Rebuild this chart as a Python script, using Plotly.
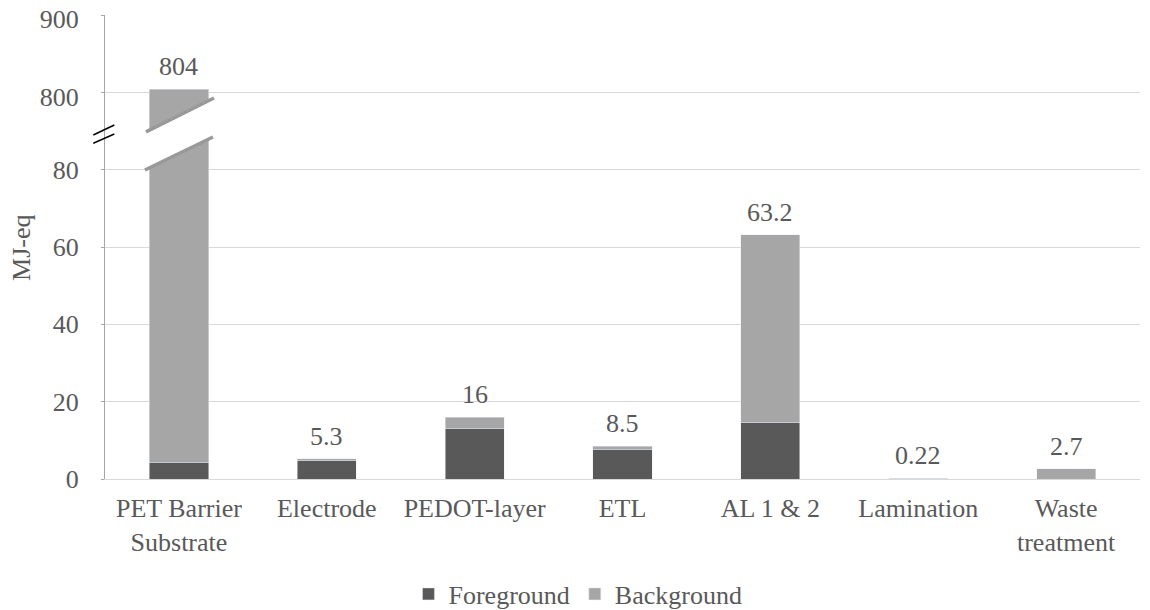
import plotly.graph_objects as go

categories = ["PET Barrier<br>Substrate", "Electrode", "PEDOT-layer", "ETL", "AL 1 & 2", "Lamination", "Waste<br>treatment"]
foreground = [4.3, 4.7, 13.1, 7.7, 14.6, 0.10, 0.0]
background = [799.7, 0.6, 2.9, 0.8, 48.6, 0.12, 2.7]
total_labels = ["804", "5.3", "16", "8.5", "63.2", "0.22", "2.7"]
lower_ticks = [0, 20, 40, 60, 80]
upper_ticks = [800, 900]

FONT = "'Times New Roman', 'Liberation Serif', 'DejaVu Serif', serif"
TXT = "#595959"
FG_COL = "#595959"
BG_COL = "#a6a6a6"
GRID = "#d9d9d9"
FS = 26

fig = go.Figure()
for yax, show in (("y", True), ("y2", False)):
    fig.add_trace(go.Bar(x=categories, y=foreground, name="Foreground", marker_color=FG_COL,
                         yaxis=yax, xaxis="x", showlegend=show, legendgroup="fg"))
    fig.add_trace(go.Bar(x=categories, y=background, name="Background", marker_color=BG_COL,
                         yaxis=yax, xaxis="x", showlegend=show, legendgroup="bg"))

annotations = []
for cat, f, b, lab in zip(categories, foreground, background, total_labels):
    tot = f + b
    annotations.append(dict(x=cat, y=tot, yref="y2" if tot > 90 else "y", xref="x",
                            text=lab, showarrow=False, yanchor="bottom", yshift=6,
                            font=dict(family=FONT, size=FS, color=TXT)))
annotations.append(dict(x=-0.0802, y=0.498, xref="paper", yref="paper", text="MJ-eq",
                        textangle=-90, showarrow=False, xanchor="center", yanchor="middle",
                        font=dict(family=FONT, size=FS, color=TXT)))

shapes = [
    dict(type="path", xref="paper", yref="paper",
         path="M 0.0386,0.666 L 0.1043,0.737 L 0.1053,0.821 L 0.0396,0.748 Z",
         fillcolor="white", line=dict(width=0), layer="above"),
    dict(type="line", xref="paper", yref="paper", x0=0.0386, y0=0.666, x1=0.1043, y1=0.737,
         line=dict(color="#999999", width=3.5), layer="above"),
    dict(type="line", xref="paper", yref="paper", x0=0.0396, y0=0.748, x1=0.1053, y1=0.821,
         line=dict(color="#999999", width=3.5), layer="above"),
    dict(type="line", xref="paper", yref="paper", x0=-0.0113, y0=0.7414, x1=0.0090, y1=0.7629,
         line=dict(color="black", width=1.5), layer="above"),
    dict(type="line", xref="paper", yref="paper", x0=-0.0113, y0=0.7235, x1=0.0090, y1=0.7435,
         line=dict(color="black", width=1.5), layer="above"),
]

axis_common = dict(showgrid=True, gridcolor=GRID, gridwidth=1, zeroline=False,
                   showline=True, linecolor="#a6a6a6", linewidth=1,
                   ticks="outside", ticklen=3, tickcolor="#a6a6a6", ticklabeloverflow="allow",
                   tickfont=dict(family=FONT, size=FS, color=TXT), ticklabelstandoff=17)

fig.update_layout(
    width=1142, height=602,
    margin=dict(l=97, r=10, t=7, b=131, autoexpand=False),
    paper_bgcolor="white", plot_bgcolor="white",
    barmode="stack", bargap=0.6,
    font=dict(family=FONT, size=FS, color=TXT),
    xaxis=dict(type="category", anchor="y", showgrid=False, showline=True, linecolor=GRID,
               ticks="", tickfont=dict(family=FONT, size=FS, color=TXT), ticklabelstandoff=6,
               automargin=False),
    yaxis=dict(domain=[0, 0.75], range=[0, 90], tickvals=lower_ticks, anchor="x",
               automargin=False, **axis_common),
    yaxis2=dict(domain=[0.75, 1], range=[750, 900.3], tickvals=upper_ticks, anchor="x",
                automargin=False, ticklabelshift=4, **axis_common),
    legend=dict(orientation="h", xref="container", yref="container", x=0.4991, y=0.0266,
                xanchor="center", yanchor="middle", font=dict(family=FONT, size=FS, color=TXT),
                itemwidth=30, tracegroupgap=0),
    annotations=annotations,
    shapes=shapes,
)

fig.write_html("out.html")
